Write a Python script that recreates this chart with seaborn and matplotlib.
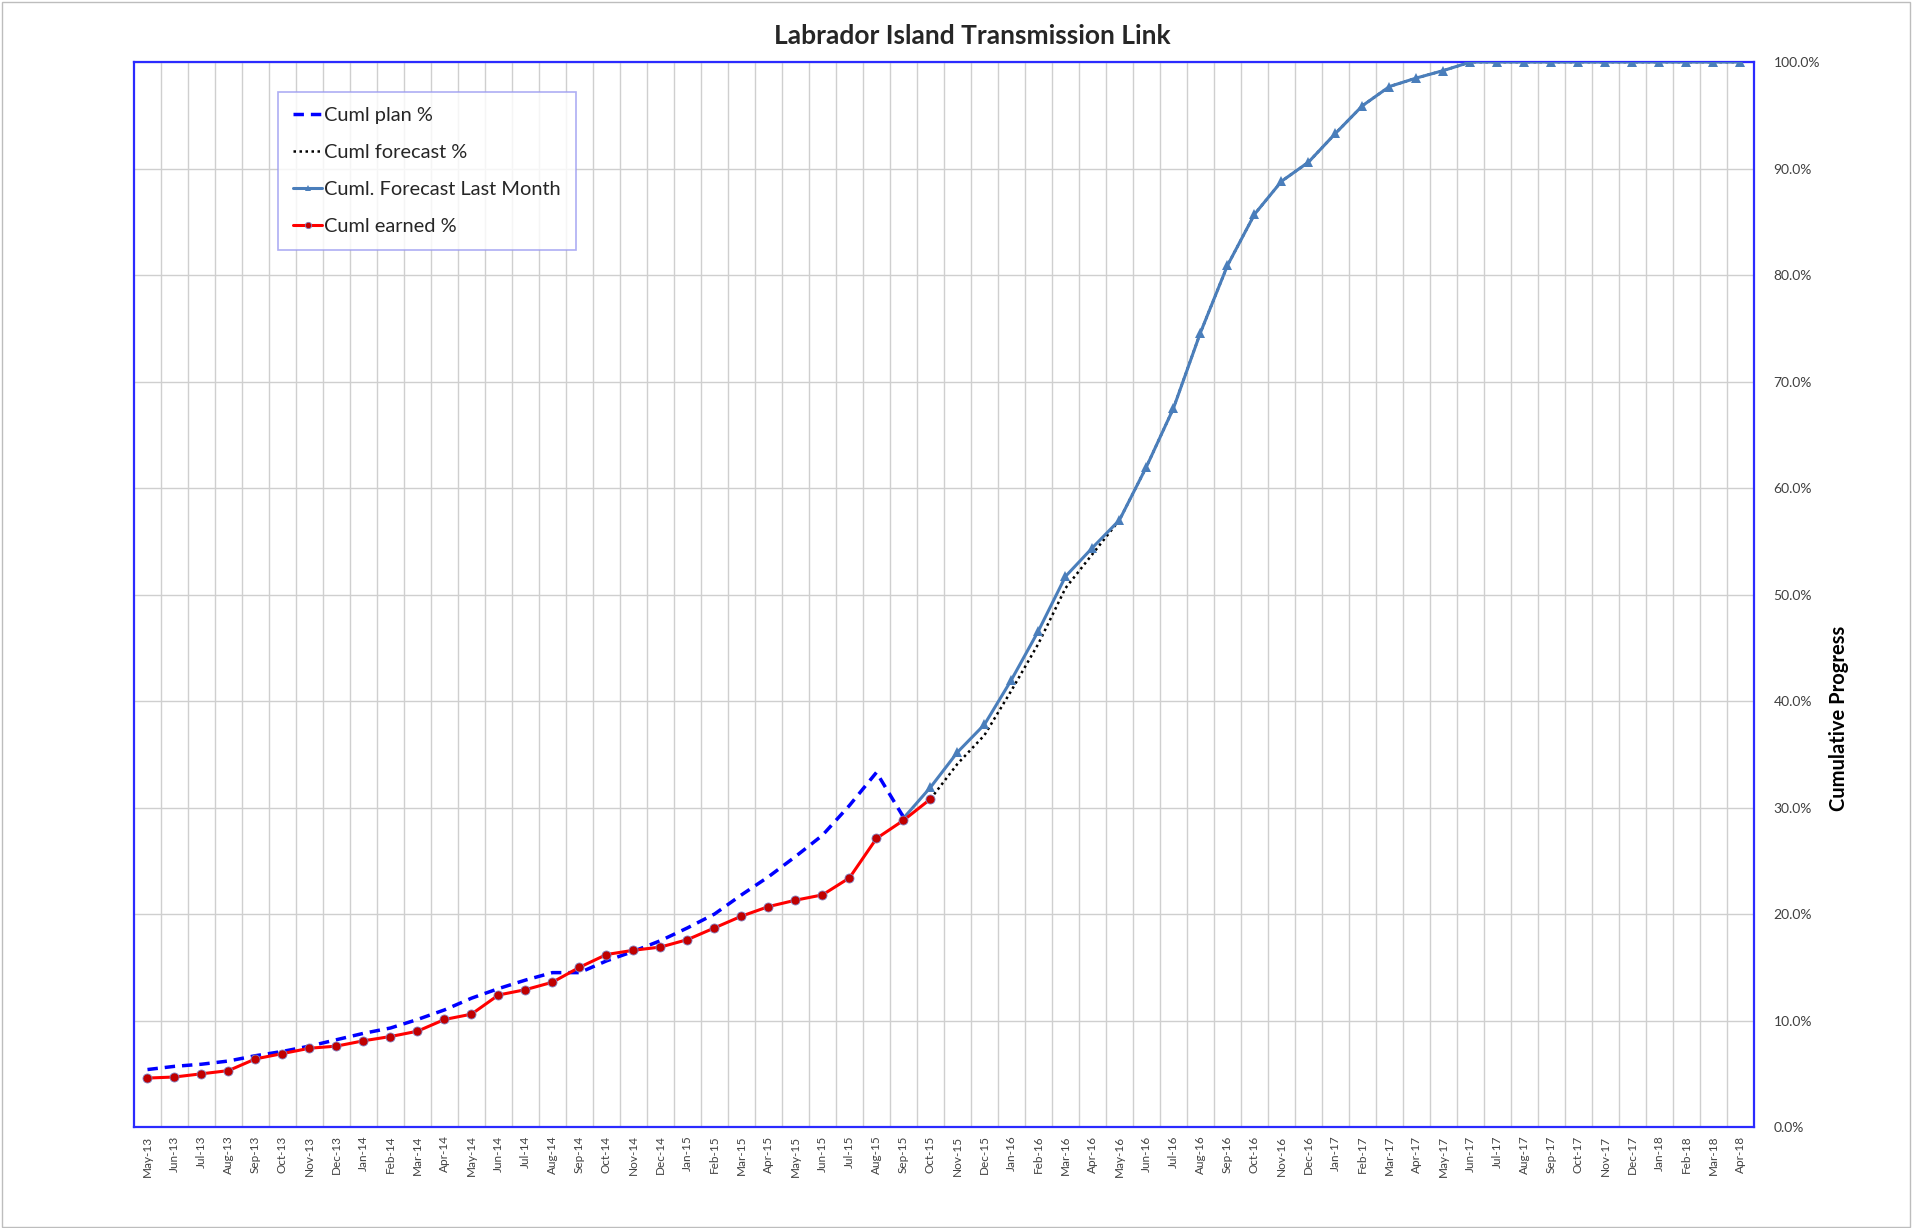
#!/usr/bin/env python3
"""Cumulative progress S-curve for the Labrador Island Transmission Link."""

import matplotlib
matplotlib.use("Agg")
import matplotlib.pyplot as plt
import matplotlib.ticker as mticker
import numpy as np
import pandas as pd
import seaborn as sns


MONTHS = list(pd.date_range("2013-05-01", periods=60, freq="MS").strftime("%b-%y"))

# Cuml plan %, May-13 .. Sep-15
PLAN = [5.4, 5.7, 5.9, 6.2, 6.7, 7.1, 7.6, 8.2, 8.8, 9.3, 10.1, 11.0, 12.1, 13.0,
        13.8, 14.5, 14.5, 15.6, 16.5, 17.5, 18.7, 20.0, 21.8, 23.5, 25.4, 27.4,
        30.2, 33.3, 29.1]

# Cuml earned %, May-13 .. Oct-15
EARNED = [4.6, 4.7, 5.0, 5.3, 6.4, 6.9, 7.4, 7.6, 8.1, 8.5, 9.0, 10.1, 10.6, 12.4,
          12.9, 13.6, 15.0, 16.2, 16.6, 16.9, 17.6, 18.7, 19.8, 20.7, 21.3, 21.8,
          23.4, 27.1, 28.8, 30.8]

# Cuml. Forecast Last Month, Sep-15 .. Apr-18
LAST_MONTH_START = 28
LAST_MONTH = [29.0, 31.9, 35.2, 37.8, 42.0, 46.6, 51.7, 54.4, 57.0, 62.0, 67.5,
              74.6, 80.9, 85.7, 88.8, 90.6, 93.3, 95.9, 97.7, 98.5, 99.2,
              100, 100, 100, 100, 100, 100, 100, 100, 100, 100, 100]

# Cuml forecast %, Oct-15 .. Apr-18
FORECAST_START = 29
FORECAST = [30.8, 34.1, 36.8, 41.0, 45.4, 50.6, 53.8, 57.0, 62.0, 67.5, 74.6,
            80.9, 85.7, 88.8, 90.6, 93.3, 95.9, 97.7, 98.5, 99.2,
            100, 100, 100, 100, 100, 100, 100, 100, 100, 100, 100]


def series(values, start=0):
    idx = np.arange(start, start + len(values))
    return pd.DataFrame({"x": idx, "y": np.asarray(values, dtype=float) / 100})


def main() -> None:
    sns.set_style("white")
    plt.rcParams["font.family"] = ["Lato", "DejaVu Sans"]

    fig = plt.figure(figsize=(19.14, 12.28), dpi=100)
    ax = fig.add_axes([0.070, 0.0822, 0.8464, 0.8673])

    spine_blue = "#2B2BFF"
    grid_c = "#CFCFCF"

    sns.lineplot(data=series(FORECAST, FORECAST_START), x="x", y="y", ax=ax,
                 color="black", linewidth=1.8, linestyle=(0, (1, 1.4)),
                 label="Cuml forecast %", zorder=3)
    sns.lineplot(data=series(LAST_MONTH, LAST_MONTH_START), x="x", y="y", ax=ax,
                 color="#4A7EBB", linewidth=2.2, marker="^", markersize=6.5,
                 markeredgewidth=0, label="Cuml. Forecast Last Month", zorder=4)
    sns.lineplot(data=series(PLAN), x="x", y="y", ax=ax,
                 color="#0000FF", linewidth=2.5, linestyle=(0, (3, 2)),
                 label="Cuml plan %", zorder=5)
    sns.lineplot(data=series(EARNED), x="x", y="y", ax=ax,
                 color="#FF0000", linewidth=2.2, marker="o", markersize=6.5,
                 markerfacecolor="#C00000", markeredgecolor="#8080C0",
                 markeredgewidth=0.6, label="Cuml earned %", zorder=6)

    ax.set_xlim(-0.5, len(MONTHS) - 0.5)
    ax.set_ylim(0, 1.0)

    ax.set_xticks(np.arange(len(MONTHS)))
    ax.set_xticklabels(MONTHS, rotation=90, fontsize=8.5, color="#404040")
    ax.xaxis.set_minor_locator(mticker.FixedLocator(np.arange(0.5, len(MONTHS) - 1, 1)))
    ax.yaxis.set_major_locator(mticker.MultipleLocator(0.1))
    ax.yaxis.set_major_formatter(mticker.PercentFormatter(1.0, decimals=1))
    ax.yaxis.tick_right()
    ax.yaxis.set_label_position("right")
    ax.tick_params(axis="y", labelsize=10, labelcolor="#404040", length=0, pad=14)
    ax.tick_params(axis="x", which="both", length=0, pad=6)

    ax.grid(False)
    ax.grid(which="minor", axis="x", color=grid_c, linewidth=1)
    ax.grid(which="major", axis="y", color=grid_c, linewidth=1)
    ax.set_axisbelow(True)

    for side in ("left", "right", "top", "bottom"):
        ax.spines[side].set_visible(True)
        ax.spines[side].set_color(spine_blue)
        ax.spines[side].set_linewidth(1.6)

    ax.set_xlabel("")
    ax.set_ylabel("Cumulative Progress", fontsize=14.5, fontweight="bold", color="black")
    ax.yaxis.set_label_coords(1.046, 0.384)

    handles, labels = ax.get_legend_handles_labels()
    order = ["Cuml plan %", "Cuml forecast %", "Cuml. Forecast Last Month", "Cuml earned %"]
    lookup = dict(zip(labels, handles))
    leg = ax.legend([lookup[k] for k in order], order, loc="upper left",
                    bbox_to_anchor=(0.089, 0.972), fontsize=14.4, frameon=True,
                    fancybox=False, handlelength=1.45, handletextpad=0.1,
                    labelspacing=1.0, borderpad=0.75, borderaxespad=0,
                    markerscale=0.7)
    leg.get_frame().set_edgecolor("#9A9AF0")
    leg.get_frame().set_linewidth(1.2)

    fig.text(0.508, 0.971, "Labrador Island Transmission Link", ha="center",
             va="center", fontsize=19, fontweight="bold")

    fig.patches.append(plt.Rectangle((0.001, 0.001), 0.997, 0.997,
                                     transform=fig.transFigure, fill=False,
                                     edgecolor="#BDBDBD", linewidth=1))

    fig.savefig("out.png", dpi=100)
    plt.close(fig)


if __name__ == "__main__":
    main()
